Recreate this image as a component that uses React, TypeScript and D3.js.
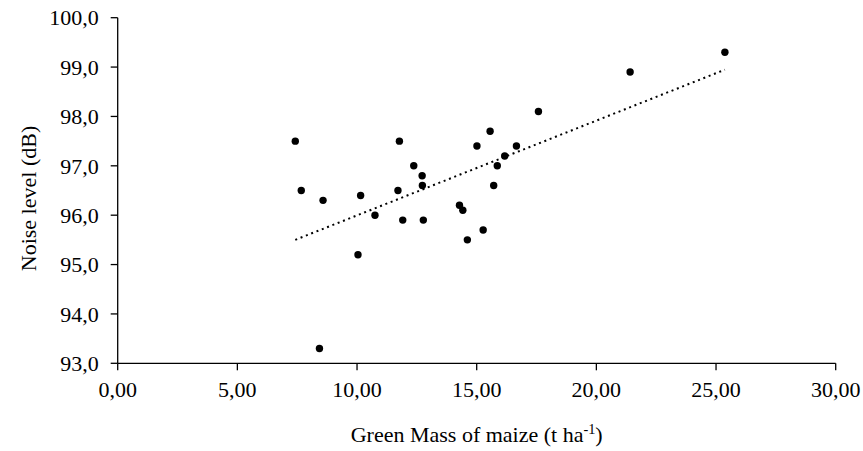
import React from "react";
import * as d3 from "d3";

const greenMass: number[] = [
  7.42, 7.67, 8.43, 8.58, 10.04, 10.15, 10.75, 11.71, 11.77, 11.91, 12.37, 12.72, 12.73, 12.77,
  14.28, 14.42, 14.61, 15.01, 15.27, 15.56, 15.71, 15.86, 16.17, 16.66, 17.58, 21.41, 25.37,
];
const noiseLevel: number[] = [
  97.5, 96.5, 93.3, 96.3, 95.2, 96.4, 96.0, 96.5, 97.5, 95.9, 97.0, 96.8, 96.6, 95.9,
  96.2, 96.1, 95.5, 97.4, 95.7, 97.7, 96.6, 97.0, 97.2, 97.4, 98.1, 98.9, 99.3,
];
const xTicks: number[] = [0, 5, 10, 15, 20, 25, 30];
const yTicks: number[] = [93, 94, 95, 96, 97, 98, 99, 100];
const xTitle = "Green Mass of maize (t ha";
const xTitleSup = "-1";
const yTitle = "Noise level (dB)";

const W = 863;
const H = 451;
const left = 117.7;
const right = 835.7;
const top = 17.7;
const bottom = 363.3;
const FONT = "'Liberation Serif', 'Times New Roman', serif";
const FS = 22;

export default function App() {
  const x = d3.scaleLinear().domain([0, 30]).range([left, right]);
  const y = d3.scaleLinear().domain([93, 100]).range([bottom, top]);
  const fmtX = (v: number) => v.toFixed(2).replace(".", ",");
  const fmtY = (v: number) => v.toFixed(1).replace(".", ",");

  const n = greenMass.length;
  const mx = d3.mean(greenMass) as number;
  const my = d3.mean(noiseLevel) as number;
  let sxy = 0;
  let sxx = 0;
  for (let i = 0; i < n; i++) {
    sxy += (greenMass[i] - mx) * (noiseLevel[i] - my);
    sxx += (greenMass[i] - mx) ** 2;
  }
  const slope = sxy / sxx;
  const intercept = my - slope * mx;
  const [x0, x1] = d3.extent(greenMass) as [number, number];
  const trend = d3.line<number>()
    .x((d) => x(d))
    .y((d) => y(intercept + slope * d))([x0, x1]);

  return (
    <svg
      width={W}
      height={H}
      style={{ position: "absolute", left: 0, top: 0, background: "#fff" }}
      fontFamily={FONT}
    >
      <rect x={0} y={0} width={W} height={H} fill="#fff" />
      <line x1={left} x2={left} y1={top} y2={bottom} stroke="#000" strokeWidth={1.3} />
      <line x1={left} x2={right} y1={bottom} y2={bottom} stroke="#000" strokeWidth={1.3} />
      {yTicks.map((t) => (
        <g key={"y" + t}>
          <line x1={left - 7} x2={left} y1={y(t)} y2={y(t)} stroke="#000" strokeWidth={1.3} />
          <text x={left - 19} y={y(t)} dy="0.35em" textAnchor="end" fontSize={FS} fill="#000">
            {fmtY(t)}
          </text>
        </g>
      ))}
      {xTicks.map((t) => (
        <g key={"x" + t}>
          <line x1={x(t)} x2={x(t)} y1={bottom} y2={bottom + 7} stroke="#000" strokeWidth={1.3} />
          <text x={x(t)} y={bottom + 34} textAnchor="middle" fontSize={FS} fill="#000">
            {fmtX(t)}
          </text>
        </g>
      ))}
      <path d={trend || ""} fill="none" stroke="#000" strokeWidth={2} strokeDasharray="2 3.7" />
      {greenMass.map((g, i) => (
        <circle key={i} cx={x(g)} cy={y(noiseLevel[i])} r={3.7} fill="#000" />
      ))}
      <text x={(left + right) / 2} y={442} textAnchor="middle" fontSize={FS} fill="#000">
        {xTitle}
        <tspan fontSize={FS * 0.65} dy={-8}>{xTitleSup}</tspan>
        <tspan dy={8}>)</tspan>
      </text>
      <text
        transform={`translate(36, ${(top + bottom) / 2 + 8}) rotate(-90)`}
        textAnchor="middle"
        fontSize={FS}
        fill="#000"
      >
        {yTitle}
      </text>
    </svg>
  );
}
